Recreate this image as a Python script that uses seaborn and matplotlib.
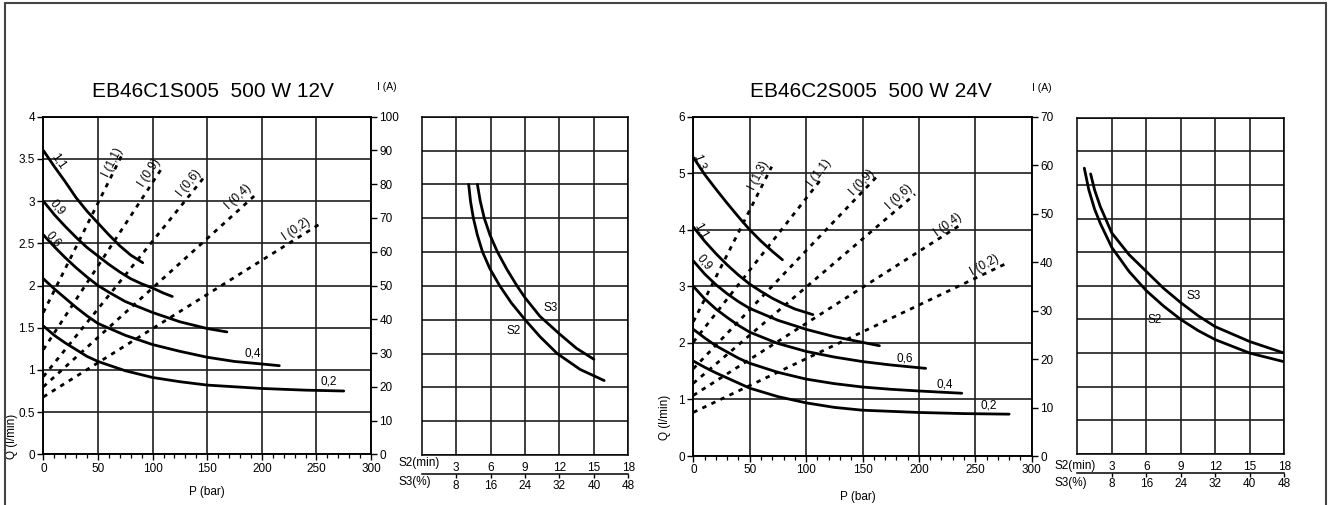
import numpy as np
import seaborn as sns
import matplotlib.pyplot as plt
from matplotlib.lines import Line2D
from matplotlib.ticker import FuncFormatter, MultipleLocator

# --- EB46C1S005 500 W 12V : Q (l/min) en fonction de P (bar)
p1_11 = [0, 10, 20, 30, 40, 50, 60, 70, 80, 91]
q1_11 = [3.60, 3.41, 3.23, 3.04, 2.88, 2.74, 2.60, 2.47, 2.36, 2.27]
p1_09 = [0, 10, 20, 30, 40, 50, 60, 70, 80, 90, 100, 110, 118]
q1_09 = [3.00, 2.84, 2.70, 2.57, 2.45, 2.35, 2.25, 2.16, 2.08, 2.02, 1.97, 1.91, 1.87]
p1_06 = [0, 10, 20, 30, 40, 50, 60, 75, 100, 125, 150, 168]
q1_06 = [2.60, 2.46, 2.33, 2.21, 2.10, 2.00, 1.92, 1.81, 1.68, 1.57, 1.49, 1.45]
p1_04 = [0, 10, 20, 30, 40, 50, 75, 100, 125, 150, 175, 200, 216]
q1_04 = [2.08, 1.96, 1.85, 1.74, 1.64, 1.55, 1.41, 1.30, 1.22, 1.15, 1.10, 1.07, 1.05]
p1_02 = [0, 10, 20, 30, 40, 50, 75, 100, 125, 150, 175, 200, 240, 275]
q1_02 = [1.52, 1.41, 1.32, 1.24, 1.16, 1.10, 0.99, 0.91, 0.86, 0.82, 0.80, 0.78, 0.76, 0.75]

# courant I (A) - droites en pointillés
c1_names = ['I (1,1)', 'I (0,9)', 'I (0,6)', 'I (0,4)', 'I (0,2)']
c1_p = [[0, 72], [0, 109], [0, 147], [0, 193], [0, 252]]
c1_i = [[42, 88.7], [31, 85], [23, 82], [20, 76.5], [17, 68]]

# --- EB46C2S005 500 W 24V
p3_13 = [0, 10, 20, 30, 40, 50, 60, 70, 79]
q3_13 = [5.28, 4.98, 4.72, 4.47, 4.23, 4.00, 3.80, 3.62, 3.47]
p3_11 = [0, 10, 20, 30, 40, 50, 60, 70, 80, 90, 106]
q3_11 = [4.05, 3.80, 3.58, 3.38, 3.20, 3.04, 2.91, 2.79, 2.69, 2.60, 2.50]
p3_09 = [0, 10, 20, 30, 40, 50, 75, 100, 125, 150, 165]
q3_09 = [3.45, 3.22, 3.03, 2.87, 2.73, 2.61, 2.40, 2.24, 2.11, 2.01, 1.95]
p3_06 = [0, 10, 20, 30, 40, 50, 75, 100, 125, 150, 175, 206]
q3_06 = [3.00, 2.78, 2.60, 2.45, 2.31, 2.19, 1.99, 1.85, 1.75, 1.67, 1.61, 1.55]
p3_04 = [0, 10, 20, 30, 40, 50, 75, 100, 125, 150, 175, 200, 238]
q3_04 = [2.24, 2.09, 1.95, 1.84, 1.73, 1.64, 1.48, 1.36, 1.28, 1.22, 1.18, 1.15, 1.11]
p3_02 = [0, 10, 20, 30, 40, 50, 75, 100, 125, 150, 175, 200, 240, 280]
q3_02 = [1.68, 1.57, 1.47, 1.38, 1.29, 1.20, 1.05, 0.94, 0.86, 0.81, 0.79, 0.77, 0.75, 0.74]

c3_names = ['I (1,3)', 'I (1,1)', 'I (0,9)', 'I (0,6)', 'I (0,4)', 'I (0,2)']
c3_p = [[0, 69.5], [0, 115], [0, 165], [0, 196.5], [0, 239], [0, 280]]
c3_i = [[27.7, 59.7], [23.5, 57.6], [18, 58.2], [15, 54], [12.5, 48], [9, 40]]

# --- service S2 / S3 (I en fonction du temps S2 en min)
d2_s2_t = [4.09, 4.25, 4.5, 4.85, 5.3, 5.95, 6.8, 7.8, 9.0, 10.3, 11.8, 13.8, 15.9]
d2_s2_i = [80, 75, 70, 65, 60, 55, 50, 45, 40, 35, 30, 25.3, 22]
d2_s3_t = [4.85, 5.1, 5.45, 5.95, 6.6, 7.4, 8.3, 9.0, 10.3, 12.0, 13.5, 15.0]
d2_s3_i = [80, 75, 70, 65, 60, 55, 50, 46.5, 41, 35.8, 31.5, 28.3]

d4_s2_t = [0.61, 1.0, 1.5, 2.0, 3.0, 4.5, 6.0, 7.5, 9.0, 10.5, 12.0, 15.0, 18.0]
d4_s2_i = [59.5, 55, 51, 48, 43, 38, 34, 30.8, 28, 25.7, 23.8, 21, 19.2]
d4_s3_t = [1.16, 1.5, 2.0, 3.0, 4.5, 6.0, 7.5, 9.0, 10.5, 12.0, 15.0, 18.0]
d4_s3_i = [58.3, 55, 51.5, 46, 41.5, 38, 34.5, 31.5, 28.8, 26.5, 23.4, 21]

s2_ticks = [3, 6, 9, 12, 15, 18]
s3_ticks = [8, 16, 24, 32, 40, 48]

titles = ['EB46C1S005  500 W 12V', 'EB46C2S005  500 W 24V']

sns.set_theme(style='white')
plt.rcParams['font.family'] = ['Liberation Sans', 'DejaVu Sans']
plt.rcParams['axes.edgecolor'] = 'black'
plt.rcParams['axes.linewidth'] = 1.1
plt.rcParams['xtick.color'] = 'black'
plt.rcParams['ytick.color'] = 'black'
plt.rcParams['text.color'] = 'black'

FS = 8.5
GRID = '#1e1e1e'
SOLID = dict(color='black', lw=2.0, errorbar=None)
DASH = dict(color='black', lw=2.0, errorbar=None, linestyle=(0, (1.6, 2.0)))

fig = plt.figure(figsize=(13.3, 5.05), dpi=100)

# cadre
for xs, ys in [([5 / 1330, 1326 / 1330], [1 - 3 / 505, 1 - 3 / 505]),
               ([5 / 1330, 5 / 1330], [0, 1 - 3 / 505]),
               ([1326 / 1330, 1326 / 1330], [0, 1 - 3 / 505])]:
    fig.add_artist(Line2D(xs, ys, transform=fig.transFigure, color='#444444', lw=1.5))


def perf_panel(rect, qmax, qstep, imax, curves, currents, title, title_x, qlab, plab, ilab):
    ax = fig.add_axes(rect)
    axr = ax.twinx()
    for p, q in curves:
        sns.lineplot(x=p, y=q, ax=ax, **SOLID)
    for p, i in currents:
        sns.lineplot(x=p, y=i, ax=axr, **DASH)
    ax.set_xlim(0, 300)
    ax.set_ylim(0, qmax)
    axr.set_ylim(0, imax)
    ax.set_xticks(range(0, 301, 50))
    ax.xaxis.set_minor_locator(MultipleLocator(10))
    ax.set_yticks(np.arange(0, qmax + 0.01, qstep))
    ax.yaxis.set_major_formatter(FuncFormatter(lambda v, _: f'{v:g}'))
    axr.set_yticks(range(0, imax + 1, 10))
    ax.tick_params(axis='both', which='major', direction='out', length=4, width=1,
                   labelsize=FS, pad=2, bottom=True, left=True)
    ax.tick_params(axis='x', which='minor', direction='out', length=3, width=0.9, bottom=True)
    axr.tick_params(axis='y', direction='out', length=4, width=1, labelsize=FS, pad=2, right=True)
    ax.grid(True, which='major', color=GRID, lw=1.2)
    ax.set_axisbelow(True)
    ax.set_xlabel('')
    ax.set_ylabel('')
    axr.set_ylabel('')
    ax.text(qlab[0], qlab[1], 'Q (l/min)', transform=ax.transAxes, rotation=90,
            ha='center', va='center', fontsize=FS)
    ax.text(plab[0], plab[1], 'P (bar)', transform=ax.transAxes, ha='center', va='center', fontsize=FS)
    ax.text(ilab[0], ilab[1], 'I (A)', transform=ax.transAxes, ha='center', va='center', fontsize=7.5)
    fig.text(title_x, 0.819, title, ha='center', va='center', fontsize=15)
    return ax, axr


def duty_panel(rect, imax, istep, s2t, s2i, s3t, s3i, s2pos, s3pos, lab_y):
    ax = fig.add_axes(rect)
    sns.lineplot(x=s2t, y=s2i, ax=ax, **SOLID)
    sns.lineplot(x=s3t, y=s3i, ax=ax, **SOLID)
    ax.set_xlim(0, 18)
    ax.set_ylim(0, imax)
    ax.set_xticks(s2_ticks)
    ax.set_yticks(np.arange(0, imax + 0.01, istep))
    ax.set_yticklabels([])
    ax.tick_params(axis='x', length=0, labelsize=FS, pad=5)
    ax.tick_params(axis='y', length=0)
    ax.grid(True, color=GRID, lw=1.2)
    ax.set_xlabel('')
    ax.set_ylabel('')
    sec = ax.secondary_xaxis(-0.056, functions=(lambda x: x * 8 / 3, lambda x: x * 3 / 8))
    sec.set_xticks(s3_ticks)
    sec.tick_params(direction='out', length=3, width=1, labelsize=FS, pad=1, bottom=True)
    ax.text(-0.112, lab_y[0], 'S2(min)', transform=ax.transAxes, ha='left', va='center', fontsize=FS)
    ax.text(-0.112, lab_y[1], 'S3(%)', transform=ax.transAxes, ha='left', va='center', fontsize=FS)
    ax.text(s2pos[0], s2pos[1], 'S2', ha='center', va='center', fontsize=FS)
    ax.text(s3pos[0], s3pos[1], 'S3', ha='center', va='center', fontsize=FS)
    return ax


# ---- panneau 1
ax1, ax1r = perf_panel([0.0326, 0.1004, 0.2464, 0.6685], 4, 0.5, 100,
                       [(p1_11, q1_11), (p1_09, q1_09), (p1_06, q1_06), (p1_04, q1_04), (p1_02, q1_02)],
                       list(zip(c1_p, c1_i)), titles[0], 0.160,
                       (-0.095, 0.052), (0.50, -0.112), (1.049, 1.088))
for txt, x, y, r in [('1,1', 14, 3.47, -55), ('0,9', 12.5, 2.93, -50), ('0,6', 9.5, 2.55, -50),
                     ('0,4', 192, 1.19, 0), ('0,2', 261, 0.86, 0)]:
    ax1.text(x, y, txt, rotation=r, ha='center', va='center', fontsize=FS)
for txt, x, y, r in zip(c1_names, [63.8, 96.8, 133.4, 178.2, 232], [86.4, 83.3, 80.4, 76.3, 66.7],
                        [63, 57, 51, 43, 34]):
    ax1r.text(x, y, txt, rotation=r, ha='center', va='center', fontsize=FS)

# ---- panneau 2
duty_panel([0.3171, 0.099, 0.1553, 0.6699], 100, 10, d2_s2_t, d2_s2_i, d2_s3_t, d2_s3_i,
           (7.98, 36.7), (11.24, 43.4), (-0.024, -0.080))

# ---- panneau 3
ax3, ax3r = perf_panel([0.5213, 0.0970, 0.2544, 0.6719], 6, 1, 70,
                       [(p3_13, q3_13), (p3_11, q3_11), (p3_09, q3_09), (p3_06, q3_06), (p3_04, q3_04),
                        (p3_02, q3_02)],
                       list(zip(c3_p, c3_i)), titles[1], 0.655,
                       (-0.084, 0.115), (0.487, -0.121), (1.030, 1.085))
for txt, x, y, r in [('1,3', 5, 5.2, -70), ('1,1', 6.5, 3.98, -60), ('0,9', 10, 3.42, -50),
                     ('0,6', 187.7, 1.73, 0), ('0,4', 223, 1.26, 0), ('0,2', 262, 0.90, 0)]:
    ax3.text(x, y, txt, rotation=r, ha='center', va='center', fontsize=FS)
for txt, x, y, r in zip(c3_names, [57.6, 112.3, 149.3, 182.4, 225.8, 258.6],
                        [57.8, 58.4, 56.4, 53.5, 47.7, 39.4], [63, 53, 47, 43, 36, 29]):
    ax3r.text(x, y, txt, rotation=r, ha='center', va='center', fontsize=FS)

# ---- panneau 4
duty_panel([0.8100, 0.1010, 0.1556, 0.6659], 70, 7, d4_s2_t, d4_s2_i, d4_s3_t, d4_s3_i,
           (6.76, 27.9), (10.16, 32.9), (-0.036, -0.086))

fig.savefig('out.png', dpi=100)
